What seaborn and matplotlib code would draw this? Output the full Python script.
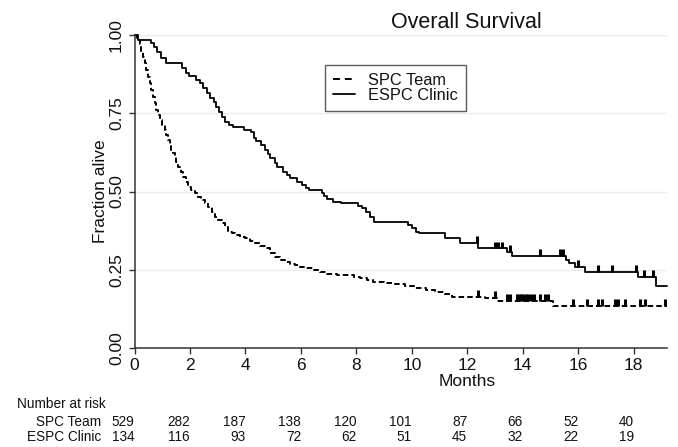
import numpy as np
import pandas as pd
import matplotlib
matplotlib.use("Agg")
import matplotlib.pyplot as plt
import matplotlib.transforms as mtransforms
import seaborn as sns

# ---------------- data ----------------
title = "Overall Survival"
series_names = ["SPC Team", "ESPC Clinic"]

spc_t = [0, 0.1, 0.19, 0.25, 0.31, 0.37, 0.43, 0.49, 0.55, 0.61, 0.67, 0.73, 0.79, 0.85,
         0.91, 1.0, 1.09, 1.15, 1.21, 1.27, 1.33, 1.39, 1.45, 1.51, 1.57, 1.66, 1.75, 1.84,
         1.93, 2.05, 2.17, 2.29, 2.41, 2.53, 2.66, 2.78, 2.9, 3.02, 3.14, 3.26, 3.38, 3.5,
         3.62, 3.8, 3.98, 4.16, 4.34, 4.52, 4.7, 4.89, 5.07, 5.25, 5.43, 5.61, 5.8, 5.97,
         6.2, 6.45, 6.7, 6.93, 7.3, 7.65, 7.9, 8.13, 8.4, 8.61, 9.0, 9.39, 9.75, 10.11,
         10.5, 10.84, 11.15, 11.44, 12.64, 13.06, 15.1, 19.2]
spc_s = [1.0, 0.985, 0.97, 0.95, 0.93, 0.91, 0.888, 0.866, 0.846, 0.825, 0.803, 0.782, 0.76, 0.744,
         0.728, 0.712, 0.696, 0.68, 0.665, 0.649, 0.633, 0.622, 0.611, 0.595, 0.579, 0.563, 0.547, 0.531,
         0.515, 0.504, 0.494, 0.483, 0.473, 0.462, 0.451, 0.435, 0.419, 0.408, 0.398, 0.385, 0.372, 0.366,
         0.361, 0.355, 0.35, 0.342, 0.334, 0.326, 0.318, 0.302, 0.292, 0.281, 0.274, 0.268, 0.264, 0.26,
         0.255, 0.249, 0.242, 0.236, 0.234, 0.233, 0.228, 0.223, 0.216, 0.21, 0.208, 0.204, 0.197, 0.191,
         0.186, 0.18, 0.172, 0.164, 0.159, 0.151, 0.134, 0.134]
spc_censored = [12.4, 13.0, 13.42, 13.54, 13.78, 13.86, 13.94, 14.02, 14.1, 14.2, 14.3, 14.4,
                14.62, 14.8, 14.9, 15.82, 16.3, 16.72, 16.84, 17.32, 17.44, 17.68, 18.22, 18.4, 19.12]

espc_t = [0, 0.12, 0.6, 0.72, 0.82, 0.95, 1.15, 1.7, 1.85, 1.95, 2.2, 2.35, 2.48, 2.6, 2.72,
          2.85, 2.95, 3.05, 3.15, 3.28, 3.4, 3.55, 3.95, 4.2, 4.3, 4.38, 4.55, 4.7, 4.8, 4.9,
          5.05, 5.15, 5.35, 5.5, 5.62, 5.85, 6.05, 6.2, 6.3, 6.75, 6.85, 6.95, 7.15, 7.45, 8.05,
          8.2, 8.35, 8.5, 8.65, 9.85, 10.0, 10.15, 10.25, 11.2, 11.72, 12.4, 13.42, 13.6, 15.55,
          15.65, 15.9, 16.25, 18.15, 18.8, 19.2]
espc_s = [1.0, 0.985, 0.975, 0.962, 0.947, 0.925, 0.912, 0.895, 0.88, 0.868, 0.857, 0.846, 0.83, 0.815, 0.8,
          0.785, 0.77, 0.755, 0.738, 0.722, 0.712, 0.707, 0.697, 0.691, 0.67, 0.66, 0.649, 0.633, 0.62, 0.606,
          0.59, 0.579, 0.563, 0.552, 0.542, 0.531, 0.521, 0.51, 0.505, 0.494, 0.485, 0.475, 0.467, 0.462, 0.455,
          0.446, 0.435, 0.42, 0.404, 0.393, 0.382, 0.372, 0.366, 0.35, 0.336, 0.318, 0.308, 0.294, 0.281,
          0.271, 0.258, 0.244, 0.228, 0.198, 0.198]
espc_censored = [12.34, 13.0, 13.1, 13.25, 13.54, 14.62, 15.34, 15.46, 16.0, 16.72, 17.22,
                 18.08, 18.38, 18.7]

x_ticks = [0, 2, 4, 6, 8, 10, 12, 14, 16, 18]
y_ticks = [0.0, 0.25, 0.5, 0.75, 1.0]
y_tick_labels = ["0.00", "0.25", "0.50", "0.75", "1.00"]
risk_spc = [529, 282, 187, 138, 120, 101, 87, 66, 52, 40]
risk_espc = [134, 116, 93, 72, 62, 51, 45, 32, 22, 19]

# ---------------- style ----------------
sns.set_theme(style="white")
plt.rcParams["font.family"] = ["Liberation Sans", "DejaVu Sans"]
plt.rcParams["lines.scale_dashes"] = False

W, H = 678, 447
fig = plt.figure(figsize=(W / 100, H / 100), dpi=100)
ax = fig.add_axes([134.5 / W, 99 / H, 532.5 / W, 313 / H])

df_spc = pd.DataFrame({"Months": spc_t, "Fraction alive": spc_s})
df_espc = pd.DataFrame({"Months": espc_t, "Fraction alive": espc_s})

sns.lineplot(data=df_spc, x="Months", y="Fraction alive", ax=ax, color="black",
             lw=1.4, linestyle="--", drawstyle="steps-post", estimator=None,
             sort=False, label=series_names[0])
ax.lines[-1].set_dashes([4.0, 2.2])
ax.lines[-1].set_clip_on(False)
sns.lineplot(data=df_espc, x="Months", y="Fraction alive", ax=ax, color="black",
             lw=1.3, drawstyle="steps-post", estimator=None, sort=False,
             label=series_names[1])
ax.lines[-1].set_clip_on(False)


def step_value(ts, ss, t):
    i = np.searchsorted(np.asarray(ts), t, side="right") - 1
    return np.asarray(ss)[i]


for cens, ts, ss in [(spc_censored, spc_t, spc_s), (espc_censored, espc_t, espc_s)]:
    yv = np.array([step_value(ts, ss, c) for c in cens])
    ax.vlines(cens, yv, yv + 0.022, color="black", lw=2.2)

ax.set_xlim(0, 19.2)
ax.set_ylim(0, 1)
ax.set_xticks(x_ticks)
ax.set_xticklabels([str(v) for v in x_ticks], fontsize=12.5)
ax.set_yticks(y_ticks)
ax.set_yticklabels(y_tick_labels, rotation=90, va="center", fontsize=12.5)
ax.tick_params(axis="x", bottom=True, length=4.5, width=1, color="#333333", pad=2.5,
               labelcolor="#111111")
ax.tick_params(axis="y", left=True, length=4.5, width=1, color="#333333", pad=3,
               labelcolor="#111111")

for s in ["top", "right"]:
    ax.spines[s].set_visible(False)
for s in ["left", "bottom"]:
    ax.spines[s].set_color("#333333")
    ax.spines[s].set_linewidth(1.1)

ax.yaxis.grid(True, color="#ebebeb", lw=1)
ax.xaxis.grid(False)
ax.set_axisbelow(True)

ax.set_xlabel("Months", fontsize=12.5, color="#111111")
ax.xaxis.set_label_coords((466.7 - 134.5) / 532.5, (348 - 373.5) / 313)
ax.set_ylabel("Fraction alive", fontsize=12.5, color="#111111")
ax.yaxis.set_label_coords((108 - 134.5) / 532.5, 0.5)

fig.text(466 / W, 1 - 28.5 / H, title, ha="center", va="baseline", fontsize=15.5,
         color="#111111")

leg = ax.legend(loc="upper left", bbox_to_anchor=(325 / W, 1 - 65 / H),
                bbox_transform=fig.transFigure, fontsize=11.8, frameon=True,
                fancybox=False, handlelength=1.35, handletextpad=0.75,
                labelspacing=0.0, borderpad=0.5, borderaxespad=0)
leg.get_frame().set_edgecolor("#333333")
leg.get_frame().set_linewidth(1.0)
for t in leg.get_texts():
    t.set_color("#111111")
leg.get_lines()[0].set_dashes([5.0, 3.5])

# number at risk table
blend = mtransforms.blended_transform_factory(ax.transData, fig.transFigure)
fig.text(17 / W, 1 - 404 / H, "Number at risk", ha="left", va="center", fontsize=9.8,
         color="#111111")
for row_name, row_vals, ypx in [(series_names[0], risk_spc, 422),
                                (series_names[1], risk_espc, 437)]:
    fig.text(101 / W, 1 - ypx / H, row_name, ha="right", va="center", fontsize=9.8,
             color="#111111")
    for xv, n in zip(x_ticks, row_vals):
        ax.text(xv, 1 - ypx / H, str(n), transform=blend, ha="right", va="center",
                fontsize=9.8, color="#111111")

fig.savefig("out.png", dpi=100)
